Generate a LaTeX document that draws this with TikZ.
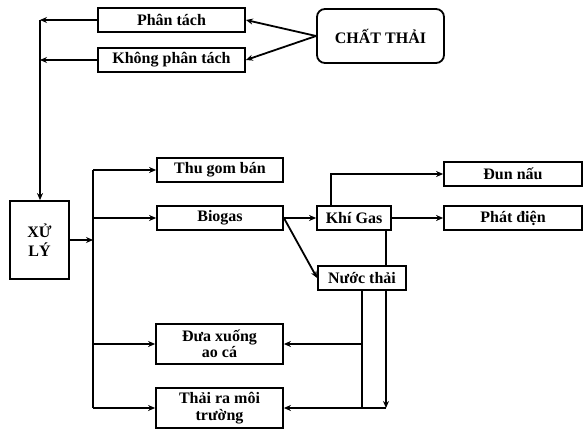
\documentclass[tikz,border=0pt]{standalone}
\usepackage{fontspec}
\setmainfont{Liberation Serif}
\usetikzlibrary{arrows.meta}
\begin{document}
\begin{tikzpicture}[x=1pt,y=1pt,>={Stealth[length=7pt,width=6pt]},line width=1.8pt,box/.style={shape=rectangle,draw=black,inner sep=0pt,font=\fontsize{16}{16.5}\selectfont\bfseries,align=center},boxR/.style={box,rounded corners=8pt}]
\def\dh{24};
\useasboundingbox (0,0) rectangle (586,-433);

\node[box,minimum width=147,minimum height=\dh] (PT) at (171.5,-20) {Phân tách};
\node[box,minimum width=147,minimum height=\dh] (KPT) at (171.5,-60) {Không phân tách};
\node[boxR,minimum width=127,minimum height=54] (CT) at (380.5,-36) {CHẤT THẢI};
\draw[->] (CT.west) -- (PT.east);
\draw[->] (CT.west) -- (KPT.east);

\node[box,minimum width=59,minimum height=78] (XL) at (39.5,-240) {XỬ\\[2pt]LÝ};
\coordinate (L1) at (40,-20);
\coordinate (L2) at (40,-60);
\draw[->] (PT.west) -- (L1);
\draw[->] (KPT.west) -- (L2);
\draw[->] (L1) -- (L1 |- XL.north);

\coordinate (T1) at (93,-170);
\coordinate (T2) at (93,-408);
\draw (T1) -- (T2);
\draw[->] (XL.east) -- (XL.east -| T1);

\node[box,minimum width=126,minimum height=\dh] (TG) at (220,-170) {Thu gom bán};
\node[box,minimum width=126,minimum height=\dh] (BG) at (220,-218) {Biogas};
\node[box,minimum width=127,minimum height=40] (DX) at (219.5,-344) {Đưa xuống\\ao cá};
\node[box,minimum width=127,minimum height=40] (TR) at (219.5,-408) {Thải ra môi\\trường};
\draw[->] (T1) -- (TG.west);
\draw[->] (T1 |- BG.west) -- (BG.west);
\draw[->] (T1 |- DX.west) -- (DX.west);
\draw[->] (T2) -- (TR.west);

\node[box,minimum width=74,minimum height=\dh] (KG) at (354,-218) {Khí Gas};
\node[box,minimum width=88,minimum height=\dh] (NT) at (362,-278) {Nước thải};
\node[box,minimum width=138,minimum height=\dh] (DN) at (513,-174) {Đun nấu};
\node[box,minimum width=138,minimum height=\dh] (PD) at (513,-218) {Phát điện};
\draw[->] (BG.east) -- (KG.west);
\draw[->] (BG.east) -- (NT.west);
\draw[->] ([xshift=-23pt]KG.north) |- (DN.west);
\draw[->] (KG.east) -- (PD.west);

\coordinate (R) at (386,-408);
\draw (R |- KG.south) -- (R |- NT.north);
\draw[->] (R |- NT.south) -- (R);
\draw[->] (R) -- (TR.east);
\draw (NT.south) -- (NT.south |- TR.east);
\draw[->] (NT.south |- DX.east) -- (DX.east);
\end{tikzpicture}
\end{document}
